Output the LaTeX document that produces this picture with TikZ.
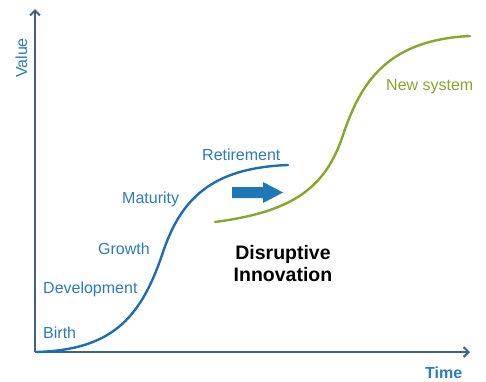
\documentclass[tikz,border=0pt]{standalone}
\usepackage{fontspec}
\setmainfont{Liberation Sans}
\usetikzlibrary{arrows.meta}
\definecolor{axiscol}{HTML}{3D6480}
\definecolor{bluetxt}{HTML}{2B7BBF}
\definecolor{bluecurve}{HTML}{1C6DB3}
\definecolor{greencol}{HTML}{86A829}
\definecolor{arrowcol}{HTML}{1E78B8}
\tikzset{
  axis/.style={draw=axiscol, line width=2pt, -{Straight Barb[length=5pt,width=10pt,line width=2pt]}},
  lbl/.style={text=bluetxt, font=\fontsize{16}{19}\selectfont, inner sep=0pt, anchor=base west},
  curve/.style={line width=2.4pt, line cap=round},
}
\begin{document}
\begin{tikzpicture}[x=1pt,y=-1pt]
\useasboundingbox (0,0) rectangle (486,381);
\coordinate (O) at (35,352);
\coordinate (ytop) at (35,9);
\coordinate (xend) at (470,352);
\draw[axis] (O) -- (ytop);
\draw[axis] (O) -- (xend);
% blue curve
\coordinate (b0) at (36,352);
\coordinate (b1) at (162,255);
\coordinate (b2) at (288,165);
\draw[curve, bluecurve] (b0) .. controls (110,350) and (140,320) .. (b1) .. controls (180,200) and (210,168) .. (b2);
% green curve
\coordinate (g0) at (215,222);
\coordinate (g1) at (343,135);
\coordinate (g2) at (470,36);
\draw[curve, greencol] (g0) .. controls (290,212) and (325,190) .. (g1) .. controls (360,85) and (385,40) .. (g2);
% block arrow
\fill[arrowcol] (232,187) -- (263,187) -- (263,182) -- (283,192.5) -- (263,203) -- (263,198) -- (232,198) -- cycle;
% labels
\node[lbl] (birth) at (43,338) {Birth};
\node[lbl] (dev) at (43,293) {Development};
\node[lbl] (growth) at (98,254) {Growth};
\node[lbl] (mat) at (122,203) {Maturity};
\node[lbl] (ret) at (202,160) {Retirement};
\node[lbl, text=greencol] (new) at (386,90) {New system};
\node[lbl, anchor=base, rotate=90] (value) at (27,58) {Value};
\node[lbl, font=\fontsize{16}{19}\selectfont\bfseries] (time) at (425,378) {Time};
\node[text=black, font=\fontsize{19.5}{22}\selectfont\bfseries, align=center, inner sep=0pt, anchor=north] (dis) at (283,245) {Disruptive\\Innovation};
\end{tikzpicture}
\end{document}
